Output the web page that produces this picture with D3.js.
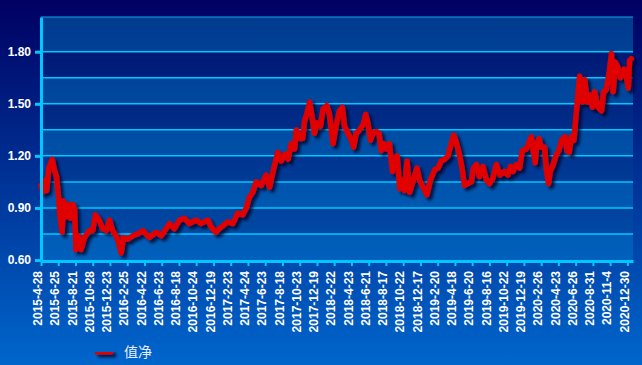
<!DOCTYPE html>
<html>
<head>
<meta charset="utf-8">
<script src="https://cdn.jsdelivr.net/npm/d3@7/dist/d3.min.js"></script>
<style>
  html, body { margin: 0; padding: 0; background: #000060; }
  svg { display: block; }
</style>
</head>
<body>
<svg id="chart" width="642" height="365"></svg>
<script>
// ---- data ----
const tickLabels = ["2015-4-28","2015-6-25","2015-8-21","2015-10-28","2015-12-23","2016-2-25","2016-4-22","2016-6-23","2016-8-18","2016-10-24","2016-12-19","2017-2-23","2017-4-24","2017-6-23","2017-8-18","2017-10-23","2017-12-19","2018-2-22","2018-4-23","2018-6-21","2018-8-17","2018-10-22","2018-12-17","2019-2-20","2019-4-18","2019-6-20","2019-8-16","2019-10-22","2019-12-19","2020-2-26","2020-4-23","2020-6-26","2020-8-31","2020-11-4","2020-12-30"];
const labelStep = 40;           // trading days between labels
const lastDay = 1373;           // trading-day index at right edge
const yTicks = [0.60, 0.90, 1.20, 1.50, 1.80];
const yGrid = [0.75, 0.90, 1.05, 1.20, 1.35, 1.50, 1.65, 1.80];
const yBandEdges = [0.60, 0.75, 0.90, 1.05, 1.20, 1.35, 1.50, 1.65, 1.80, 2.00];
const yDomain = [0.60, 2.00];
const seriesName = "值净";

// trading-day index and net value
const dayIndex = [0,4,10,13,18,26,31,36,41,44,49,52,56,60,64,69,74,78,81,87,93,101,112,120,126,135,143,152,159,166,174,180,186,191,201,213,224,236,251,267,279,290,298,309,321,333,344,360,371,387,395,405,418,433,445,456,468,476,483,491,499,511,522,530,539,549,557,565,573,580,588,592,600,607,611,615,623,629,634,640,648,654,663,669,677,685,692,699,704,712,720,725,731,739,747,753,758,764,770,778,784,789,795,801,808,815,820,826,832,838,843,849,855,861,866,872,878,886,895,903,913,921,928,936,944,949,957,963,971,977,982,990,998,1003,1010,1017,1025,1033,1040,1048,1056,1065,1075,1083,1089,1095,1102,1110,1116,1126,1132,1137,1141,1146,1150,1155,1160,1168,1172,1177,1181,1188,1194,1201,1207,1215,1220,1225,1230,1236,1240,1246,1249,1256,1261,1267,1273,1279,1284,1292,1300,1305,1311,1318,1323,1327,1332,1338,1344,1352,1356,1362,1365,1369];
const navValues = [1.03,0.99,1.06,1.00,1.13,1.18,1.12,1.08,0.95,0.85,0.76,0.94,0.90,0.85,0.92,0.84,0.92,0.89,0.66,0.74,0.66,0.73,0.77,0.77,0.86,0.83,0.78,0.77,0.83,0.77,0.74,0.70,0.64,0.73,0.72,0.74,0.75,0.77,0.73,0.76,0.74,0.78,0.81,0.78,0.83,0.84,0.81,0.83,0.81,0.83,0.79,0.76,0.79,0.82,0.81,0.87,0.86,0.90,0.96,0.99,1.05,1.03,1.09,1.02,1.12,1.22,1.17,1.21,1.18,1.27,1.24,1.35,1.30,1.30,1.40,1.43,1.51,1.42,1.33,1.39,1.37,1.47,1.49,1.44,1.27,1.38,1.46,1.48,1.37,1.33,1.29,1.25,1.33,1.35,1.38,1.44,1.39,1.29,1.33,1.34,1.33,1.23,1.27,1.24,1.27,1.11,1.16,1.20,1.01,1.06,1.00,1.17,0.99,1.04,1.08,1.13,1.06,1.02,0.975,1.06,1.12,1.13,1.17,1.18,1.20,1.25,1.32,1.28,1.20,1.12,1.03,1.04,1.05,1.13,1.15,1.08,1.14,1.06,1.04,1.07,1.15,1.09,1.11,1.09,1.14,1.11,1.15,1.13,1.23,1.24,1.28,1.31,1.24,1.16,1.27,1.30,1.25,1.25,1.12,1.04,1.11,1.15,1.20,1.23,1.29,1.31,1.23,1.22,1.31,1.29,1.41,1.58,1.66,1.51,1.64,1.51,1.55,1.48,1.57,1.48,1.46,1.57,1.58,1.69,1.79,1.57,1.74,1.71,1.65,1.70,1.69,1.59,1.75,1.76];

// ---- layout ----
const W = 642, H = 365;
const plot = {left: 41, right: 633, top: 17, bottom: 260};

const svg = d3.select("#chart");
const defs = svg.append("defs");

const bgGrad = defs.append("linearGradient").attr("id","bg").attr("x1",0).attr("y1",0).attr("x2",0).attr("y2",1);
bgGrad.append("stop").attr("offset","0%").attr("stop-color","#000062");
bgGrad.append("stop").attr("offset","100%").attr("stop-color","#0066cc");

const lightGrad = defs.append("linearGradient").attr("id","light").attr("gradientUnits","userSpaceOnUse")
  .attr("x1",0).attr("y1",plot.top).attr("x2",0).attr("y2",plot.bottom);
lightGrad.append("stop").attr("offset","0%").attr("stop-color","#003b8f");
lightGrad.append("stop").attr("offset","100%").attr("stop-color","#0060bb");
const darkGrad = defs.append("linearGradient").attr("id","dark").attr("gradientUnits","userSpaceOnUse")
  .attr("x1",0).attr("y1",plot.top).attr("x2",0).attr("y2",plot.bottom);
darkGrad.append("stop").attr("offset","0%").attr("stop-color","#00106c");
darkGrad.append("stop").attr("offset","100%").attr("stop-color","#0050ab");

const shadow = defs.append("filter").attr("id","shadow")
  .attr("filterUnits","userSpaceOnUse").attr("x",0).attr("y",0).attr("width",W).attr("height",H);
shadow.append("feDropShadow").attr("dx",3).attr("dy",3).attr("stdDeviation",1.6)
  .attr("flood-color","#000020").attr("flood-opacity",0.75);

svg.append("rect").attr("width",W).attr("height",H).attr("fill","url(#bg)");

const x = d3.scaleLinear().domain([0, lastDay]).range([plot.left, plot.right]);
const y = d3.scaleLinear().domain(yDomain).range([plot.bottom, plot.top]);

// bands
const bands = d3.pairs(yBandEdges);
svg.append("g").selectAll("rect").data(bands).join("rect")
  .attr("x", plot.left).attr("width", plot.right - plot.left)
  .attr("y", d => y(d[1])).attr("height", d => y(d[0]) - y(d[1]))
  .attr("fill", (d,i) => i % 2 === 0 ? "url(#light)" : "url(#dark)");

// grid
svg.append("g").selectAll("line").data(yGrid).join("line")
  .attr("x1", plot.left).attr("x2", plot.right)
  .attr("y1", d => y(d)).attr("y2", d => y(d))
  .attr("stroke", "#00c8ff").attr("stroke-width", 1.5);
svg.append("line").attr("x1", plot.left).attr("x2", plot.right)
  .attr("y1", y(yDomain[1])).attr("y2", y(yDomain[1]))
  .attr("stroke", "#0aa8e8").attr("stroke-width", 1.2);

// line
const data = dayIndex.map((d,i) => ({d, v: navValues[i]}));
const line = d3.line().x(p => x(p.d)).y(p => y(p.v));
svg.append("path").datum(data)
  .attr("d", line).attr("fill","none")
  .attr("stroke","#e00000").attr("stroke-width",5.5)
  .attr("stroke-linejoin","round").attr("stroke-linecap","round")
  .attr("filter","url(#shadow)");

// axes
const yAxis = d3.axisLeft(y).tickValues(yTicks).tickFormat(d3.format(".2f")).tickSize(6).tickSizeOuter(0).tickPadding(4);
const gy = svg.append("g").attr("transform", `translate(${plot.left},0)`).call(yAxis);
gy.select(".domain").attr("stroke","#00c8ff").attr("stroke-width",3);
gy.selectAll(".tick line").attr("stroke","#00c8ff").attr("stroke-width",3);
gy.selectAll(".tick text").attr("fill","#ffffff").attr("font-family","Liberation Sans, Arial, sans-serif")
  .attr("font-size",12).attr("font-weight","bold");

const xAxis = d3.axisBottom(x).tickValues(tickLabels.map((t,i) => i * labelStep))
  .tickFormat((d,i) => tickLabels[i]).tickSize(5).tickSizeOuter(0);
const gx = svg.append("g").attr("transform", `translate(0,${plot.bottom + 1})`).call(xAxis);
gx.select(".domain").attr("stroke","#00c8ff").attr("stroke-width",3);
gx.selectAll(".tick line").attr("stroke","#00c8ff").attr("stroke-width",2);
gx.selectAll(".tick text")
  .attr("fill","#ffffff").attr("font-family","Liberation Sans, Arial, sans-serif")
  .attr("font-size",12).attr("font-weight","bold")
  .attr("text-anchor","end")
  .attr("transform","rotate(-90)")
  .attr("x",-10).attr("y",0).attr("dy","0.05em");

// legend
const lg = svg.append("g").attr("transform","translate(95,352)");
lg.append("line").attr("x1",2).attr("x2",16).attr("y1",0).attr("y2",0)
  .attr("stroke","#e00000").attr("stroke-width",5).attr("stroke-linecap","round")
  .attr("filter","url(#shadow)");
lg.append("text").attr("x",29).attr("y",0).attr("dy","0.36em")
  .attr("fill","#e8ecff").attr("font-family","Noto Sans CJK SC, sans-serif")
  .attr("font-size",14).text(seriesName);
</script>
</body>
</html>
